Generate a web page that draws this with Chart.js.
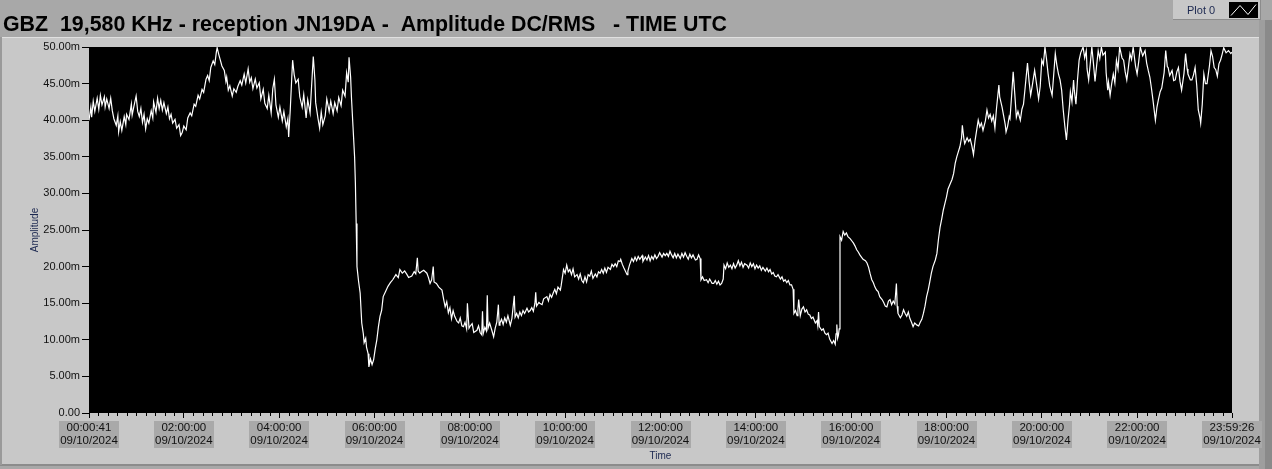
<!DOCTYPE html>
<html>
<head>
<meta charset="utf-8">
<script src="https://cdn.jsdelivr.net/npm/chart.js@4.4.1/dist/chart.umd.min.js"></script>
<style>
  html, body { margin: 0; padding: 0; background: #a8a8a8; }
  #wrap { position: absolute; left: 0; top: 0; width: 1272px; height: 469px; }
  canvas { display: block; }
</style>
</head>
<body>
<div id="wrap"><canvas id="c" width="1272" height="469"></canvas></div>
<script>
// ---- data (time in minutes since 00:00 UTC, amplitude in milli-units) ----
const chartTitle = "GBZ  19,580 KHz - reception JN19DA -  Amplitude DC/RMS   - TIME UTC";
const legendLabel = "Plot 0";
const xAxisTitle = "Time";
const yAxisTitle = "Amplitude";

const timeMinutes = [
0.7,3,4,6,8,11,13,15,17,20,21,23,26,28,30,32,35,37,38,40,42,45,47,48,51,54,55,57,60,62,64,66,68,70,72,74,76,79,81,82,85,87,89,91,93,95,98,100,102,104,106,109,111,114,116,118,120,123,125,128,130,133,135,138,140,143,145,148,150,152,154,157,159,161,162,164,166,168,171,173,174,176,178,181,183,186,188,191,193,196,198,201,203,205,207,210,212,215,217,220,222,225,227,230,232,234,236,239,241,244,246,249,251,252,254,256,257,259,261,264,266,269,271,274,276,279,281,283,285,286,289,291,293,295,298,300,303,305,308,310,313,315,318,320,323,325,327,328,330,331,333,335,336,337,338,340,342,344,346,347,349,350,352,353,355,357,359,361,363,365,367,369,371,374,377,380,383,387,390,392,395,398,401,403,407,410,412,414,415,417,419,422,426,428,430,432,434,435,438,441,445,447,449,451,453,455,457,459,461,464,466,468,470,472,474,476,477,479,480,483,485,489,491,493,495,496,497,499,501,502,503,505,508,510,512,514,516,517,518,520,522,524,526,528,531,533,536,537,539,541,543,545,547,549,552,554,556,558,560,562,563,564,567,568,571,573,577,579,581,583,585,587,589,591,594,595,598,600,602,604,606,608,610,612,615,617,619,621,623,625,627,629,631,633,635,638,640,642,644,646,648,650,652,654,657,659,661,663,665,667,669,670,672,674,678,679,681,684,686,688,690,692,694,697,698,701,703,705,707,709,711,713,715,717,719,722,724,726,728,730,732,734,736,738,740,742,745,747,749,751,753,755,757,759,761,764,766,768,770,771,773,775,778,780,782,785,787,789,791,793,795,797,799,800,802,804,806,808,810,812,814,816,818,820,822,824,826,829,831,833,835,837,839,841,843,845,847,849,852,854,856,858,860,862,864,866,868,871,873,875,877,879,881,883,885,887,888,890,892,893,894,896,898,900,902,904,906,908,910,912,915,917,918,919,920,923,925,927,929,931,933,936,938,940,941,942,943,944,945,946,948,950,952,954,956,959,961,963,965,967,969,971,973,975,978,980,982,984,986,988,990,992,994,996,999,1001,1003,1005,1007,1009,1011,1013,1015,1017,1018,1019,1022,1024,1026,1028,1030,1032,1034,1036,1038,1040,1043,1045,1047,1049,1051,1053,1055,1057,1059,1061,1063,1066,1068,1070,1072,1074,1076,1078,1080,1082,1085,1087,1089,1091,1093,1095,1097,1099,1100,1102,1103,1106,1108,1110,1112,1114,1116,1118,1120,1122,1124,1126,1129,1131,1133,1135,1137,1139,1141,1143,1146,1147,1150,1152,1154,1155,1157,1159,1160,1162,1164,1166,1168,1170,1173,1175,1177,1179,1182,1184,1186,1188,1191,1194,1196,1198,1200,1202,1204,1206,1208,1210,1213,1215,1217,1219,1221,1223,1225,1227,1229,1231,1232,1233,1235,1236,1238,1240,1241,1243,1245,1247,1249,1252,1254,1256,1257,1259,1261,1263,1265,1267,1269,1271,1273,1275,1277,1280,1281,1283,1284,1286,1288,1290,1292,1294,1296,1298,1301,1303,1305,1307,1309,1311,1313,1315,1318,1320,1322,1324,1327,1330,1332,1334,1336,1338,1340,1343,1345,1347,1349,1351,1354,1356,1358,1359,1361,1364,1366,1368,1370,1372,1374,1376,1379,1381,1383,1384,1387,1389,1391,1393,1395,1397,1399,1400,1402,1404,1406,1408,1411,1413,1415,1417,1419,1421,1423,1425,1427,1429,1432,1435,1438,1439.4
];

const amplitudeMilli = [
40.0,41.8,40.4,42.6,41.2,43.0,41.5,43.4,42.1,43.2,41.8,42.9,41.6,43.0,41.3,40.2,39.3,40.6,38.4,39.8,38.6,40.5,39.4,40.8,40.1,42.2,40.7,41.8,43.3,41.2,40.5,41.6,39.7,40.8,38.8,40.2,39.6,41.3,40.3,42.5,41.1,43.0,41.6,42.7,41.4,42.4,40.9,41.8,40.2,40.8,39.6,40.1,38.9,39.4,37.9,38.3,39.2,38.7,40.3,41.0,40.6,42.2,41.9,43.4,42.9,44.2,43.8,45.6,46.1,45.4,47.2,48.1,47.6,49.3,49.9,49.0,48.2,47.4,46.8,45.3,45.9,44.1,44.7,43.3,44.3,43.8,44.6,45.4,44.8,46.3,45.1,47.0,45.2,45.8,44.3,45.6,44.4,45.1,42.9,44.2,42.3,41.6,43.4,41.0,44.3,45.6,42.1,40.4,41.8,39.9,41.2,39.1,40.2,37.7,41.4,46.0,48.2,46.2,45.1,45.6,43.2,41.8,43.5,40.3,42.8,41.0,44.9,48.7,45.6,42.4,40.2,38.9,41.1,39.4,40.6,42.9,41.2,42.6,40.9,42.4,41.3,43.1,42.0,44.1,43.3,46.5,45.2,48.6,45.9,43.2,39.1,35.0,31.4,25.9,20.0,18.0,16.4,12.3,10.8,9.6,10.2,9.0,8.1,6.3,7.4,6.6,7.3,8.8,10.0,11.8,13.2,14.0,15.9,16.6,17.3,17.8,18.2,18.9,18.5,19.6,19.1,19.4,18.9,18.5,18.7,19.3,19.0,21.2,19.4,19.1,19.3,19.5,19.1,18.5,17.7,18.2,20.0,17.9,17.7,17.2,16.8,15.6,14.5,15.2,13.7,14.4,12.9,14.0,13.2,12.5,12.3,13.0,11.9,11.8,12.4,11.5,15.0,11.6,11.8,12.2,11.0,11.3,11.9,11.0,10.7,13.9,10.9,11.7,11.2,16.1,11.6,12.3,11.2,10.4,11.6,12.4,14.8,12.0,12.3,12.8,12.1,13.0,12.4,13.3,12.0,12.9,16.0,13.1,13.6,13.0,13.8,13.3,14.0,13.6,14.3,13.8,14.0,14.4,13.9,15.0,16.5,14.6,15.1,15.0,14.8,15.6,15.9,15.3,16.2,15.8,16.4,16.9,16.3,17.2,16.8,17.4,19.6,19.1,20.2,19.3,19.6,18.9,19.7,18.6,18.9,18.3,19.0,18.1,17.8,18.6,17.9,18.9,18.7,19.4,18.4,19.0,18.6,19.3,19.1,19.6,19.1,19.8,19.2,19.9,19.6,20.3,20.0,20.4,20.0,20.8,20.7,21.0,20.3,19.8,18.9,19.4,20.2,21.1,20.7,21.3,20.8,21.4,21.0,21.5,20.7,21.3,20.9,21.5,20.8,21.4,21.0,21.6,21.1,21.4,21.9,21.3,21.8,21.5,21.8,21.4,22.1,21.6,21.2,21.8,21.2,21.7,21.1,21.8,21.3,21.9,21.4,21.0,21.7,21.2,21.6,20.9,21.0,21.6,21.1,18.2,18.6,18.1,18.2,17.8,18.3,17.7,17.7,18.1,17.6,18.0,17.5,17.7,18.3,20.2,19.7,20.5,19.9,20.2,19.7,20.4,19.8,20.2,20.8,20.1,20.6,19.9,20.4,20.2,19.8,20.5,20.0,20.4,19.7,20.2,19.8,20.1,19.5,19.9,19.4,19.8,19.3,19.6,19.0,19.2,18.7,18.6,18.9,18.3,18.6,18.0,18.2,17.8,18.1,17.5,17.5,16.9,13.6,14.0,13.3,14.1,15.5,13.3,14.2,14.5,13.8,14.1,13.5,13.4,12.9,13.1,12.3,12.6,11.9,13.8,11.8,11.3,11.5,10.9,10.7,10.9,10.1,9.5,9.9,9.4,10.8,12.1,10.2,10.6,11.5,24.1,23.6,24.8,24.3,24.6,24.1,23.8,23.5,23.2,22.8,22.3,22.0,21.6,21.3,21.0,20.8,20.5,19.9,19.0,18.2,17.8,17.2,16.8,16.6,15.9,15.5,15.1,14.6,14.5,15.3,15.5,14.8,15.3,14.9,17.7,14.6,13.6,13.0,13.4,14.1,13.6,13.2,13.8,12.9,12.4,11.8,12.3,12.0,11.9,12.4,12.8,13.6,14.6,15.9,16.8,17.9,19.1,20.0,20.9,21.8,23.8,25.4,26.5,27.7,28.6,29.5,30.6,31.4,31.9,32.7,34.1,35.0,35.7,36.4,37.6,39.3,37.4,36.8,37.6,37.1,37.4,36.5,35.3,37.2,38.6,40.0,39.1,39.6,38.6,39.9,41.4,40.3,40.8,39.9,40.6,38.9,41.6,44.8,43.2,41.8,40.6,39.4,38.4,39.2,40.5,40.2,43.3,46.6,43.6,40.4,41.2,40.0,41.5,42.2,44.4,47.8,45.3,43.4,44.7,46.8,44.5,42.9,44.6,48.2,47.6,50.0,48.3,46.3,44.7,43.4,46.2,49.1,47.5,46.3,45.5,44.1,41.4,39.2,37.3,38.6,40.0,42.2,43.9,42.5,45.5,44.0,42.2,45.6,48.2,49.2,50.0,48.5,49.5,47.0,45.5,47.7,50.0,47.8,45.3,47.4,49.5,48.4,50.0,48.9,49.3,46.5,44.1,45.2,43.4,45.0,46.3,45.1,48.2,47.0,50.0,48.5,48.2,46.6,45.5,47.2,49.1,48.3,50.0,47.4,46.3,48.0,50.0,48.8,49.5,47.8,46.8,45.9,44.4,42.7,40.0,41.8,42.9,43.9,44.4,46.5,49.5,47.3,47.2,46.1,46.8,45.4,45.5,46.6,47.2,45.3,44.1,46.4,49.1,47.0,46.3,45.5,45.5,46.2,47.2,44.8,41.4,40.4,39.6,42.2,46.3,45.0,45.0,47.4,49.5,48.7,47.2,46.9,46.0,47.7,48.2,49.0,49.9,49.2,49.5,49.1,49.3
];

const xTickMinutes = [0.683, 120, 240, 360, 480, 600, 720, 840, 960, 1080, 1200, 1320, 1439.433];
const xTickTimeLabels = ["00:00:41","02:00:00","04:00:00","06:00:00","08:00:00","10:00:00","12:00:00","14:00:00","16:00:00","18:00:00","20:00:00","22:00:00","23:59:26"];
const xTickDateLabel = "09/10/2024";
const xMinorStepMinutes = 12;
const yTickValues = [0, 5, 10, 15, 20, 25, 30, 35, 40, 45, 50];

// ---- chart ----
const points = timeMinutes.map((t, i) => ({ x: t, y: amplitudeMilli[i] }));

const FONT = "'Liberation Sans', Arial, sans-serif";
const XTICK_FONT = { family: FONT, size: 11.5, lineHeight: 1.165 };

const framePlugin = {
  id: 'frame',
  beforeDraw(chart) {
    const ctx = chart.ctx, W = chart.width, H = chart.height, a = chart.chartArea;
    ctx.save();
    // top band
    ctx.fillStyle = '#a8a8a8';
    ctx.fillRect(0, 0, W, H);
    // main panel
    ctx.fillStyle = '#c8c8c8';
    ctx.fillRect(0, 37, 1259, 428);
    ctx.fillStyle = '#e0e0e0';
    ctx.fillRect(0, 37, 1259, 1);
    ctx.fillStyle = '#8c8c8c';
    ctx.fillRect(0, 464, 1259, 2);
    ctx.fillStyle = '#9a9a9a';
    ctx.fillRect(0, 37, 2, 428);
    // right strip
    ctx.fillStyle = '#9e9e9e';
    ctx.fillRect(1259, 20, 6, H - 20);
    ctx.fillStyle = '#8a8a8a';
    ctx.fillRect(1265, 20, 7, H - 20);
    // legend box
    ctx.fillStyle = '#c8c8c8';
    ctx.fillRect(1173, 0, 88, 20);
    ctx.fillStyle = '#8c8c8c';
    ctx.fillRect(1173, 19, 88, 1);
    ctx.fillRect(1260, 0, 1, 20);
    ctx.fillStyle = '#000';
    ctx.fillRect(1229, 2, 29, 16);
    ctx.strokeStyle = '#fff';
    ctx.lineWidth = 1;
    ctx.beginPath();
    ctx.moveTo(1231, 15.5); ctx.lineTo(1240, 5.5); ctx.lineTo(1248, 14.5); ctx.lineTo(1256, 4.5);
    ctx.stroke();
    ctx.fillStyle = '#1c2850';
    ctx.font = '11px ' + FONT;
    ctx.textBaseline = 'middle';
    ctx.textAlign = 'left';
    ctx.fillText(legendLabel, 1187, 10.5);
    // title
    ctx.fillStyle = '#000';
    let fs = 20;
    ctx.font = 'bold ' + fs + 'px ' + FONT;
    const w = ctx.measureText(chartTitle).width;
    fs = fs * 724 / w;
    ctx.font = 'bold ' + fs.toFixed(2) + 'px ' + FONT;
    ctx.textBaseline = 'alphabetic';
    ctx.fillText(chartTitle, 3, 31);
    // plot background
    ctx.fillStyle = '#000';
    ctx.fillRect(a.left, a.top, a.right - a.left, a.bottom - a.top);
    // x tick label backdrops
    const xs = chart.scales.x;
    ctx.font = XTICK_FONT.size + 'px ' + FONT;
    ctx.fillStyle = '#a9a9a9';
    const lh = XTICK_FONT.size * XTICK_FONT.lineHeight;
    xTickMinutes.forEach((m, i) => {
      const px = xs.getPixelForValue(m);
      const tw = Math.max(ctx.measureText(xTickTimeLabels[i]).width, ctx.measureText(xTickDateLabel).width);
      const top = a.bottom + 5 + 3 - 0.5;
      ctx.fillRect(Math.round(px - tw / 2 - 1), Math.round(top), Math.round(tw + 2), Math.round(2 * lh));
    });
    ctx.restore();
  },
  afterDraw(chart) {
    const ctx = chart.ctx, xs = chart.scales.x, a = chart.chartArea;
    ctx.save();
    ctx.strokeStyle = '#000';
    ctx.lineWidth = 1;
    ctx.beginPath();
    for (let m = xMinorStepMinutes; m < xs.max; m += xMinorStepMinutes) {
      if (m % 120 === 0) continue;
      const px = Math.round(xs.getPixelForValue(m)) + 0.5;
      ctx.moveTo(px, a.bottom);
      ctx.lineTo(px, a.bottom + 3);
    }
    ctx.stroke();
    ctx.restore();
  }
};

new Chart(document.getElementById('c'), {
  type: 'line',
  data: {
    datasets: [{
      label: legendLabel,
      data: points,
      borderColor: '#ffffff',
      borderWidth: 1.2,
      pointRadius: 0,
      tension: 0,
      fill: false
    }]
  },
  options: {
    responsive: false,
    animation: false,
    events: [],
    layout: { padding: { left: 0, top: 47, right: 40, bottom: 0 } },
    plugins: { legend: { display: false }, tooltip: { enabled: false }, title: { display: false } },
    scales: {
      x: {
        type: 'linear',
        min: xTickMinutes[0],
        max: xTickMinutes[xTickMinutes.length - 1],
        afterBuildTicks(s) { s.ticks = xTickMinutes.map(v => ({ value: v })); },
        afterFit(s) { s.height = 56; },
        grid: { drawOnChartArea: false, drawTicks: true, tickLength: 5, tickColor: '#000' },
        border: { display: false },
        ticks: {
          autoSkip: false,
          maxRotation: 0,
          minRotation: 0,
          padding: 3,
          color: '#111',
          font: XTICK_FONT,
          callback(v, i) { return [xTickTimeLabels[i], xTickDateLabel]; }
        },
        title: { display: true, text: xAxisTitle, color: '#1c2850', font: { family: FONT, size: 10 }, padding: { top: 0, bottom: 7 } }
      },
      y: {
        type: 'linear',
        min: 0,
        max: 50,
        afterBuildTicks(s) { s.ticks = yTickValues.map(v => ({ value: v })); },
        afterFit(s) { s.width = 89; },
        grid: { drawOnChartArea: false, drawTicks: true, tickLength: 7, tickColor: '#000' },
        border: { display: false },
        ticks: {
          padding: 2,
          color: '#111',
          font: { family: FONT, size: 11 },
          callback(v) { return v === 0 ? '0.00' : v.toFixed(2) + 'm'; }
        },
        title: { display: true, text: yAxisTitle, color: '#1c2850', font: { family: FONT, size: 10 }, padding: { top: 29, bottom: 0 } }
      }
    }
  },
  plugins: [framePlugin]
});
</script>
</body>
</html>
